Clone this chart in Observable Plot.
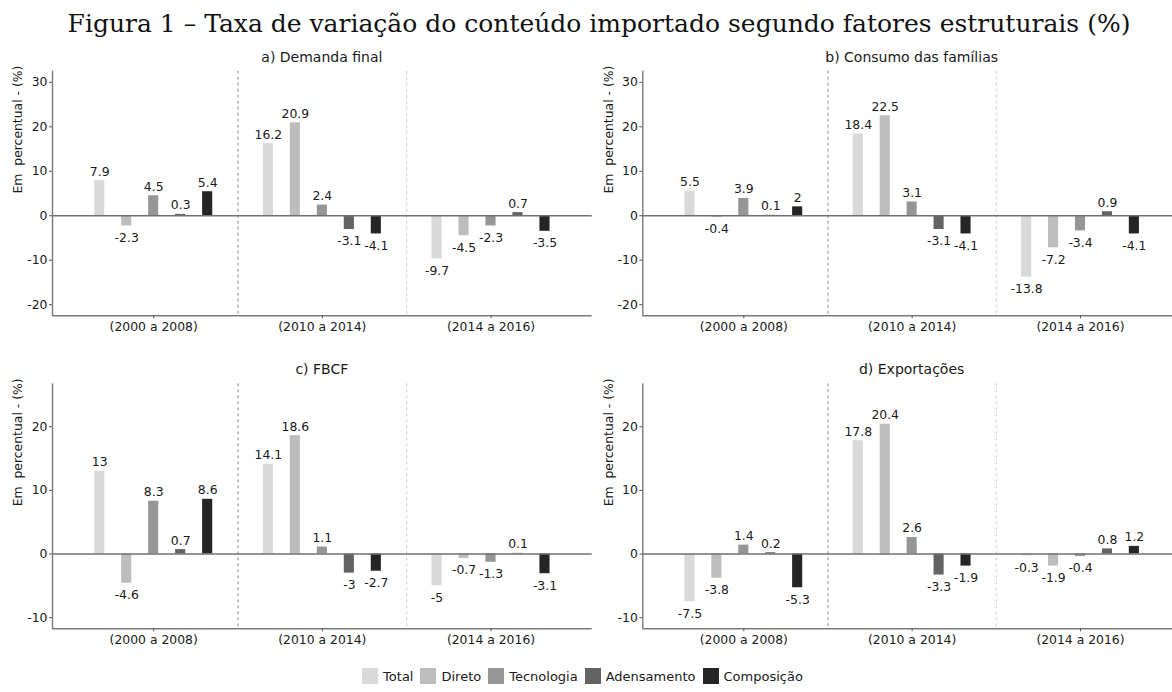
<!DOCTYPE html>
<html><head><meta charset="utf-8">
<script src="https://cdn.jsdelivr.net/npm/d3@7"></script>
<script src="https://cdn.jsdelivr.net/npm/@observablehq/plot@0.6"></script>
<style>
html,body{margin:0;padding:0;background:#fff;overflow:hidden;}
#wrap{position:relative;width:1172px;height:692px;overflow:hidden;background:#fff;font-family:"DejaVu Sans",sans-serif;color:#1a1a1a;}
#wrap svg{position:absolute;overflow:visible;}
#wrap svg text{white-space:pre;}
.ttl{position:absolute;white-space:nowrap;transform:translate(-50%,-50%);line-height:1;}
#main{font-family:"DejaVu Serif",serif;font-size:25px;color:#111;}
.ptitle{font-size:14px;}
#legend{position:absolute;left:0;width:1172px;top:668px;height:16px;display:flex;justify-content:center;align-items:center;font-size:13px;color:#1a1a1a;}
#legend .sw{width:16px;height:16px;margin-right:5px;}
#legend .lb{margin-right:7px;}
</style></head><body><div id="wrap"></div>
<script>
// ---- data ----
const periods = ["(2000 a 2008)", "(2010 a 2014)", "(2014 a 2016)"];
const factors = ["Total", "Direto", "Tecnologia", "Adensamento", "Composição"];
const colors = ["#d9d9d9", "#bdbdbd", "#969696", "#636363", "#252525"];
const figureTitle = "Figura 1 – Taxa de variação do conteúdo importado segundo fatores estruturais (%)";
const panelTitles = ["a) Demanda final", "b) Consumo das famílias", "c) FBCF", "d) Exportações"];
const yTitle = "Em  percentual - (%)";
// values per period: [Total, Direto, Tecnologia, Adensamento, Composição]
const demandaFinal = [[7.9, -2.3, 4.5, 0.3, 5.4], [16.2, 20.9, 2.4, -3.1, -4.1], [-9.7, -4.5, -2.3, 0.7, -3.5]];
const consumoFamilias = [[5.5, -0.4, 3.9, 0.1, 2], [18.4, 22.5, 3.1, -3.1, -4.1], [-13.8, -7.2, -3.4, 0.9, -4.1]];
const fbcf = [[13, -4.6, 8.3, 0.7, 8.6], [14.1, 18.6, 1.1, -3, -2.7], [-5, -0.7, -1.3, 0.1, -3.1]];
const exportacoes = [[-7.5, -3.8, 1.4, 0.2, -5.3], [17.8, 20.4, 2.6, -3.3, -1.9], [-0.3, -1.9, -0.4, 0.8, 1.2]];
const yLimitsTop = [-20, 30];
const yLimitsBottom = [-10, 25];
const yTicksTop = [-20, -10, 0, 10, 20, 30];
const yTicksBottom = [-10, 0, 10, 20];

const wrap = document.getElementById("wrap");

function addDiv(cls, text, x, y, id) {
  const d = document.createElement("div");
  d.className = cls; if (id) d.id = id;
  d.textContent = text;
  d.style.left = x + "px"; d.style.top = y + "px";
  wrap.appendChild(d);
}

function panel(values, title, opts) {
  const rows = [];
  values.forEach((vals, i) => vals.forEach((v, j) => rows.push({period: periods[i], pi: i, factor: factors[j], fj: j, value: v})));
  const pad = 0.05 * (opts.limits[1] - opts.limits[0]);
  const yDomain = [opts.limits[0] - pad, opts.limits[1] + pad];
  const xDomain = [0.4, periods.length + 0.6];
  const dodge = 0.8 / factors.length, half = 0.3 / factors.length / 2;
  const cx = d => d.pi + 1 + (d.fj - (factors.length - 1) / 2) * dodge;
  const plot = Plot.plot({
    width: opts.width, height: 280,
    marginLeft: opts.marginLeft, marginRight: opts.marginRight,
    marginTop: opts.marginTop, marginBottom: opts.marginBottom,
    style: {fontFamily: "DejaVu Sans, sans-serif", fontSize: "12.4px", color: "#1a1a1a", background: "transparent"},
    x: {type: "linear", domain: xDomain},
    y: {domain: yDomain},
    color: {domain: factors, range: colors},
    marks: [
      Plot.ruleX([1.5], {stroke: "#8a8a8a", strokeDasharray: "3,3", strokeWidth: 1}),
      Plot.ruleX([2.5], {stroke: "#cdcdcd", strokeDasharray: "3,3", strokeWidth: 1}),
      Plot.rect(rows, {x1: d => cx(d) - half, x2: d => cx(d) + half, y1: 0, y2: "value", fill: "factor"}),
      Plot.ruleY([0], {stroke: "#707070", strokeWidth: 1.4}),
      Plot.ruleX([xDomain[0]], {stroke: "#7a7a7a", strokeWidth: 1.4}),
      Plot.ruleY([yDomain[0]], {stroke: "#7a7a7a", strokeWidth: 1.4}),
      Plot.axisX({ticks: [1, 2, 3], tickFormat: i => periods[i - 1], tickSize: 3, tickPadding: 3, label: null, stroke: "#555", fill: "#1a1a1a"}),
      Plot.axisY({ticks: opts.ticks, tickFormat: v => String(v), tickSize: 3, tickPadding: 2, label: null, stroke: "#555", fill: "#1a1a1a"}),
      Plot.text(rows.filter(d => d.value >= 0), {x: cx, y: "value", text: d => String(d.value), lineAnchor: "bottom", dy: -5, fill: "#1a1a1a"}),
      Plot.text(rows.filter(d => d.value < 0), {x: cx, y: "value", text: d => String(d.value), lineAnchor: "top", dy: 7, fill: "#1a1a1a"}),
      Plot.text([yTitle], {frameAnchor: "left", rotate: -90, dx: -34, fill: "#1a1a1a"})
    ]
  });
  plot.style.left = opts.left + "px";
  plot.style.top = opts.top + "px";
  wrap.appendChild(plot);
  const fx0 = opts.left + opts.marginLeft, fx1 = opts.left + opts.width - opts.marginRight;
  addDiv("ttl ptitle", title, (fx0 + fx1) / 2, opts.top + opts.marginTop - 14);
}

addDiv("ttl", figureTitle, 599, 23, "main");

panel(demandaFinal, panelTitles[0], {left: 0, top: 60, width: 600, marginLeft: 52, marginRight: 8.3, marginTop: 10.7, marginBottom: 24.7, limits: yLimitsTop, ticks: yTicksTop});
panel(consumoFamilias, panelTitles[1], {left: 600, top: 60, width: 581, marginLeft: 42.3, marginRight: 0, marginTop: 10.7, marginBottom: 24.7, limits: yLimitsTop, ticks: yTicksTop});
panel(fbcf, panelTitles[2], {left: 0, top: 373, width: 600, marginLeft: 52, marginRight: 8.3, marginTop: 10.3, marginBottom: 24.7, limits: yLimitsBottom, ticks: yTicksBottom});
panel(exportacoes, panelTitles[3], {left: 600, top: 373, width: 581, marginLeft: 42.3, marginRight: 0, marginTop: 10.3, marginBottom: 24.7, limits: yLimitsBottom, ticks: yTicksBottom});

// legend
const legend = document.createElement("div");
legend.id = "legend";
factors.forEach((f, j) => {
  const sw = document.createElement("div"); sw.className = "sw"; sw.style.background = colors[j];
  const lb = document.createElement("div"); lb.className = "lb"; lb.textContent = f;
  legend.appendChild(sw); legend.appendChild(lb);
});
wrap.appendChild(legend);
</script></body></html>
